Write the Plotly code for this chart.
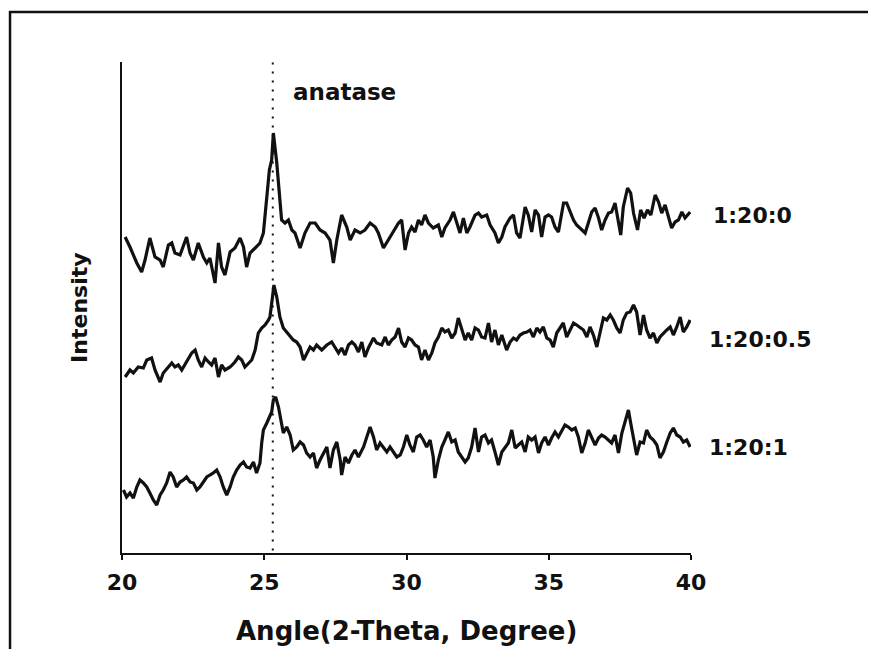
import plotly.graph_objects as go

# ---------------- data ----------------
x_a = [20.11,20.28,20.52,20.69,20.81,20.98,21.16,21.34,21.45,21.63,21.75,21.86,22.04,22.27,22.39,22.51,22.68,22.86,22.98,23.09,
       23.27,23.39,23.50,23.62,23.80,23.97,24.15,24.27,24.38,24.50,24.68,24.85,24.97,25.09,25.18,25.26,25.32,25.44,25.55,25.61,
       25.73,25.85,25.97,26.08,26.26,26.43,26.61,26.79,26.96,27.14,27.31,27.43,27.55,27.72,27.90,28.02,28.19,28.37,28.54,28.72,
       28.90,29.01,29.19,29.36,29.54,29.72,29.83,29.95,
       30.07,30.18,30.30,30.42,30.53,30.65,30.77,30.94,31.12,31.24,31.35,31.53,31.65,31.76,31.88,32.00,32.12,32.23,32.41,32.53,
       32.64,32.82,32.94,33.11,33.23,33.35,33.46,33.64,33.76,33.87,33.99,34.17,34.28,34.40,34.52,34.64,34.75,34.87,34.99,35.10,
       35.22,35.34,35.52,35.63,35.75,35.87,35.98,36.16,36.28,36.39,36.51,36.63,36.75,36.86,36.98,37.10,37.21,37.33,37.45,37.53,
       37.62,37.77,37.88,37.98,38.12,38.23,38.35,38.47,38.59,38.74,38.86,38.97,39.09,39.21,39.32,39.44,39.56,39.68,39.79,39.88,
       39.97]
y_a = [316,306,290,281,293,315,296,293,286,308,310,300,298,316,300,293,310,296,290,295,
       270,310,286,278,301,305,315,306,286,300,305,310,320,360,383,393,420,390,356,333,
       330,333,323,320,305,320,330,330,323,320,313,290,313,338,326,313,323,320,323,330,
       326,320,305,313,323,330,333,303,
       320,326,321,333,328,338,330,325,328,316,325,333,341,330,320,335,320,326,338,340,
       336,338,328,320,310,316,326,335,338,320,315,346,338,321,343,338,316,336,338,336,
       326,321,350,350,341,333,328,323,320,330,341,345,335,323,333,340,341,350,333,318,
       346,365,360,340,323,343,335,343,338,358,351,340,348,335,325,331,333,341,335,338,
       341]

x_b = [20.11,20.28,20.40,20.57,20.75,20.87,21.04,21.16,21.34,21.45,21.63,21.75,21.86,21.98,22.10,22.27,22.45,22.57,22.68,22.80,
       22.92,23.04,23.15,23.27,23.39,23.50,23.62,23.80,23.97,24.09,24.21,24.32,24.44,24.56,24.68,24.79,24.91,25.03,25.15,25.20,
       25.29,25.34,25.44,25.55,25.67,25.79,25.91,26.02,26.14,26.26,26.38,26.49,26.61,26.73,26.84,27.02,27.20,27.37,27.49,27.61,
       27.72,27.84,27.96,28.08,28.19,28.31,28.43,28.54,28.66,28.84,28.95,29.13,29.25,29.36,29.48,29.60,29.72,29.83,29.95,30.07,
       30.18,30.30,30.42,30.53,30.65,30.77,30.89,31.00,31.12,31.24,31.35,31.47,31.59,31.71,31.82,31.94,32.06,32.17,32.29,32.41,
       32.53,32.64,32.76,32.88,32.99,33.11,33.23,33.35,33.52,33.64,33.76,33.87,33.99,34.11,34.23,34.34,34.46,34.58,34.69,34.81,
       34.93,35.05,35.16,35.28,35.40,35.51,35.63,35.75,35.87,35.98,36.10,36.22,36.34,36.45,36.57,36.69,36.80,36.92,37.04,37.16,
       37.27,37.39,37.51,37.62,37.74,37.86,37.98,38.09,38.21,38.33,38.44,38.56,38.68,38.80,38.91,39.03,39.15,39.27,39.38,39.50,
       39.62,39.73,39.85,39.97]
y_b = [176,183,180,186,185,193,195,183,171,180,186,190,186,188,183,191,200,203,193,186,
       195,191,188,195,176,188,183,186,191,196,193,186,190,193,203,220,225,228,233,236,
       256,268,256,236,225,221,216,213,211,206,193,200,206,203,208,203,208,211,206,200,
       205,198,208,211,208,201,211,196,205,215,210,208,216,208,213,216,225,211,206,215,
       213,208,206,193,203,193,200,210,216,225,221,223,215,220,235,223,213,220,213,225,
       223,216,215,230,211,223,208,218,203,211,215,213,218,220,221,223,216,225,221,226,
       215,213,206,220,225,230,216,223,230,228,225,223,216,226,218,206,220,235,233,238,
       233,225,220,233,240,241,248,241,218,238,223,215,220,210,216,220,223,226,218,226,
       236,221,226,233]

x_c = [20.05,20.16,20.28,20.40,20.52,20.63,20.75,20.87,20.98,21.10,21.22,21.34,21.45,21.57,21.69,21.80,21.92,22.04,22.16,22.27,
       22.39,22.51,22.63,22.74,22.86,22.98,23.09,23.21,23.33,23.45,23.56,23.68,23.80,23.91,24.03,24.15,24.27,24.38,24.50,24.62,
       24.73,24.85,24.91,24.97,25.09,25.18,25.26,25.32,25.40,25.50,25.58,25.67,25.79,25.91,26.02,26.14,26.26,26.38,26.49,26.61,
       26.73,26.84,26.96,27.08,27.20,27.31,27.43,27.55,27.67,27.72,27.84,27.96,28.08,28.19,28.31,28.49,28.60,28.72,28.84,28.95,
       29.07,29.19,29.31,29.42,29.54,29.66,29.78,29.89,30.01,
       30.12,30.24,30.36,30.48,30.59,30.71,30.83,30.94,31.00,31.12,31.24,31.35,31.47,31.59,31.71,31.82,31.94,32.06,32.17,32.29,
       32.41,32.53,32.64,32.76,32.88,32.99,33.11,33.23,33.35,33.46,33.58,33.70,33.82,33.93,34.05,34.17,34.28,34.40,34.52,34.64,
       34.75,34.87,34.99,35.10,35.22,35.34,35.46,35.57,35.69,35.81,35.93,36.04,36.16,36.28,36.39,36.51,36.63,36.75,36.86,36.98,
       37.10,37.21,37.33,37.45,37.57,37.68,37.80,37.88,37.98,38.09,38.21,38.33,38.44,38.56,38.68,38.80,38.91,39.03,39.15,39.27,
       39.38,39.50,39.62,39.73,39.85,39.97]
y_c = [63,56,60,55,66,73,70,66,60,53,48,58,63,70,81,76,66,71,73,76,
       71,70,63,66,71,76,78,80,83,76,66,58,66,76,83,88,91,86,85,91,
       80,90,110,123,130,136,141,153,156,146,133,120,126,118,103,106,111,108,100,96,
       100,85,93,100,106,85,103,111,93,78,96,90,98,103,96,106,116,126,116,103,
       110,106,101,106,101,96,98,106,118,
       108,101,116,118,113,106,113,96,75,93,106,113,121,111,113,101,96,91,95,106,
       125,101,116,118,110,113,101,88,101,105,110,123,105,108,111,101,116,113,116,100,
       110,116,108,115,121,116,123,128,126,123,125,116,100,110,123,116,108,115,118,116,
       113,110,118,100,120,130,143,130,116,98,111,110,123,116,113,108,95,101,111,120,
       125,118,116,111,113,106]

series_names = ["1:20:0", "1:20:0.5", "1:20:1"]
anatase_pos = 25.3
x_ticks = [20, 25, 30, 35, 40]
x_title = "Angle(2-Theta, Degree)"
y_title = "Intensity"

# ---------------- figure ----------------
FONT = "DejaVu Sans"
fig = go.Figure()
for xs, ys, nm in [(x_a, y_a, series_names[0]), (x_b, y_b, series_names[1]), (x_c, y_c, series_names[2])]:
    n = min(len(xs), len(ys))
    fig.add_trace(go.Scatter(x=xs[:n], y=ys[:n], mode="lines", name=nm,
                             line=dict(color="#111111", width=3.2), showlegend=False,
                             hoverinfo="skip"))

# page body adds an 8px margin; keep the figure inside the viewport (no scrollbars)
fig.update_layout(
    width=860, height=641,
    margin=dict(l=114, r=177, t=54, b=96),
    paper_bgcolor="white", plot_bgcolor="white",
    showlegend=False,
)
fig.update_xaxes(range=[20, 40], tickvals=x_ticks, ticktext=[str(t) for t in x_ticks],
                 showline=True, linecolor="#111111", linewidth=2, mirror=False,
                 ticks="outside", ticklen=5, tickwidth=1.5, tickcolor="#111111",
                 showgrid=False, zeroline=False, ticklabelstandoff=4,
                 tickfont=dict(family=FONT, size=22, color="#111111", weight="bold"))
fig.update_yaxes(range=[0, 491], showline=True, linecolor="#111111", linewidth=2,
                 showticklabels=False, ticks="", showgrid=False, zeroline=False)

# dotted reference line for anatase peak
fig.add_shape(type="line", xref="x", yref="paper", x0=anatase_pos, x1=anatase_pos, y0=0.005, y1=1.0,
              line=dict(color="#111111", width=2, dash="2px,7px"))

# outer frame: only the top and left edges are visible in the reference (one open path)
fig.add_shape(type="path", xref="paper", yref="paper",
              path="M -0.1968,-0.25 L -0.1968,1.1018 L 1.5,1.1018",
              line=dict(color="#111111", width=2.5), fillcolor="rgba(0,0,0,0)", layer="above")

bold = dict(family=FONT, color="#111111", weight="bold")
ann = [
    dict(text="anatase", x=0.3902, y=0.939, size=23, xanchor="center", angle=0),
    dict(text=series_names[0], x=1.036, y=0.688, size=22, xanchor="left", angle=0),
    dict(text=series_names[1], x=1.028, y=0.434, size=22, xanchor="left", angle=0),
    dict(text=series_names[2], x=1.028, y=0.214, size=22, xanchor="left", angle=0),
    dict(text=y_title, x=-0.074, y=0.499, size=22, xanchor="center", angle=-90),
    dict(text=x_title, x=0.5, y=-0.159, size=26, xanchor="center", angle=0),
]
for a in ann:
    fig.add_annotation(text=a["text"], xref="paper", yref="paper", x=a["x"], y=a["y"],
                       xanchor=a["xanchor"], yanchor="middle", showarrow=False,
                       textangle=a["angle"], font=dict(size=a["size"], **bold))

fig.write_html("out.html")
